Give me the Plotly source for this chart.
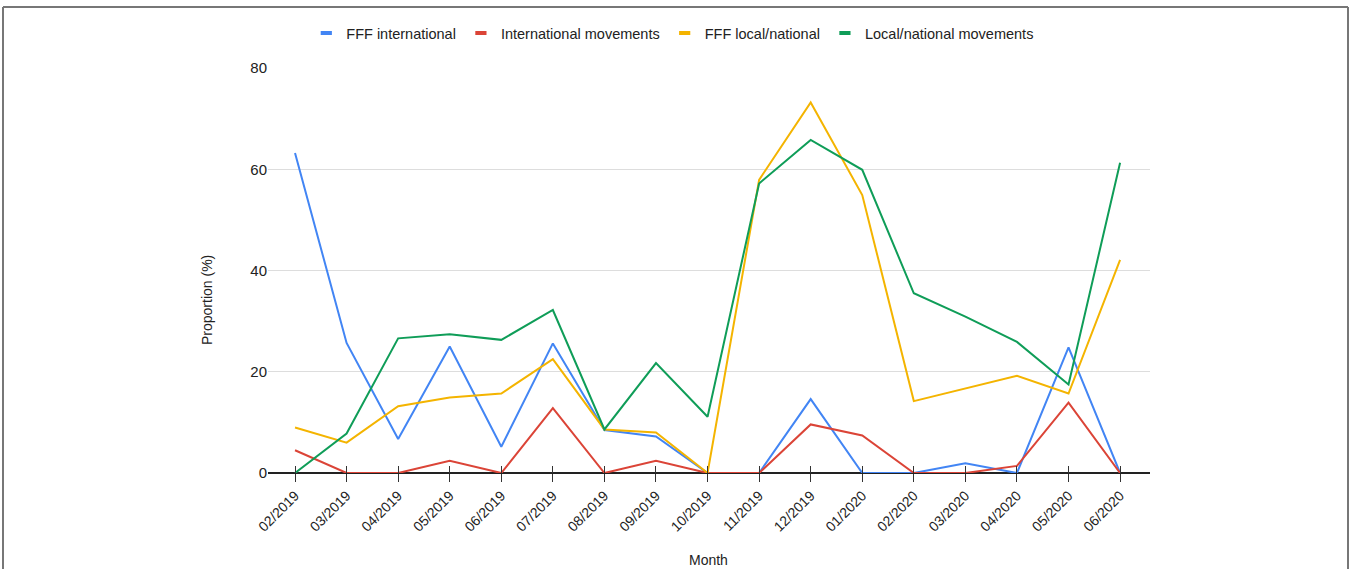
import plotly.graph_objects as go

months = ["02/2019", "03/2019", "04/2019", "05/2019", "06/2019", "07/2019", "08/2019",
          "09/2019", "10/2019", "11/2019", "12/2019", "01/2020", "02/2020", "03/2020",
          "04/2020", "05/2020", "06/2020"]

fff_international = [63.2, 25.7, 6.7, 25.0, 5.2, 25.6, 8.5, 7.2, 0, 0, 14.6, 0, 0, 1.9, 0, 24.8, 0]
international_movements = [4.5, 0, 0, 2.4, 0, 12.8, 0, 2.4, 0, 0, 9.6, 7.4, 0, 0, 1.4, 13.9, 0]
fff_local_national = [9.0, 6.0, 13.2, 14.9, 15.7, 22.5, 8.6, 8.0, 0, 57.9, 73.2, 54.9, 14.2, 16.7, 19.2, 15.7, 42.1]
local_national_movements = [0, 7.8, 26.6, 27.4, 26.3, 32.2, 8.6, 21.7, 11.1, 57.2, 65.8, 59.9, 35.5, 30.9, 25.9, 17.5, 61.3]

series = [
    ("FFF international", fff_international, "#4285F4"),
    ("International movements", international_movements, "#DB4437"),
    ("FFF local/national", fff_local_national, "#F4B400"),
    ("Local/national movements", local_national_movements, "#0F9D58"),
]

fig = go.Figure()
for name, vals, color in series:
    fig.add_trace(go.Scatter(x=months, y=vals, mode="lines", name=name, showlegend=False,
                             line=dict(color=color, width=2)))
# legend entries with short bar symbols
for name, vals, color in series:
    fig.add_trace(go.Scatter(x=[None], y=[None], mode="markers", name=name,
                             marker=dict(symbol="line-ew-open", size=8, color=color,
                                         line=dict(color=color, width=4))))

# invisible trace on overlay axis to show tick marks above the baseline
fig.add_trace(go.Scatter(x=months, y=[None] * len(months), xaxis="x2", showlegend=False,
                         hoverinfo="skip"))

font_family = "Liberation Sans, Arial, sans-serif"
xr = [-0.524, 16.58]
L, R, T, B = 268, 201, 68, 96
W = 1351 - L - R
H = 569 - T - B


def px_x(x):
    return (x - L) / W


def px_y(y):
    return (569 - B - y) / H


fig.update_layout(
    width=1351, height=569,
    margin=dict(l=L, r=R, t=T, b=B, autoexpand=False),
    paper_bgcolor="white", plot_bgcolor="white",
    font=dict(family=font_family, size=14, color="#222222"),
    legend=dict(orientation="h", xref="container", x=0.498, xanchor="center",
                y=px_y(33), yanchor="middle",
                font=dict(size=14.5, color="#222222"), itemwidth=30, tracegroupgap=0),
    xaxis=dict(range=xr, showgrid=False, ticks="outside", ticklen=8, tickcolor="#333333",
               tickwidth=1, tickangle=-45, tickfont=dict(size=14, color="#222222"),
               zeroline=False, showline=False, automargin=False),
    xaxis2=dict(range=xr, overlaying="x", anchor="y", side="bottom", ticks="inside",
                ticklen=7, tickcolor="#333333", tickwidth=1, showticklabels=False,
                showgrid=False, zeroline=False, type="category"),
    yaxis=dict(range=[0, 80], tickvals=[0, 20, 40, 60, 80], showgrid=True, gridcolor="#dddddd",
               gridwidth=1, zeroline=True, zerolinecolor="#222222", zerolinewidth=2,
               tickfont=dict(size=15, color="#222222"), ticks="", showline=False,
               automargin=False),
    showlegend=True,
)

# axis titles
fig.add_annotation(text="Proportion (%)", xref="paper", yref="paper", x=px_x(207), y=px_y(300),
                   xanchor="center", yanchor="middle", textangle=-90, showarrow=False,
                   font=dict(size=14, color="#222222"))
fig.add_annotation(text="Month", xref="paper", yref="paper", x=px_x(708), y=px_y(560),
                   xanchor="center", yanchor="middle", showarrow=False,
                   font=dict(size=14, color="#222222"))

# thin gray frame (top, left, right) of the original figure panel
for x0, y0, x1, y1 in [(3, 7, 1348, 7), (3, 7, 3, 569), (1348, 7, 1348, 569)]:
    fig.add_shape(type="line", xref="paper", yref="paper",
                  x0=px_x(x0), x1=px_x(x1), y0=px_y(y0), y1=px_y(y1),
                  line=dict(color="#777777", width=2))

fig.write_html("out.html", config={"displayModeBar": False},
               post_script="document.body.style.margin='0';document.body.style.overflow='hidden';")
